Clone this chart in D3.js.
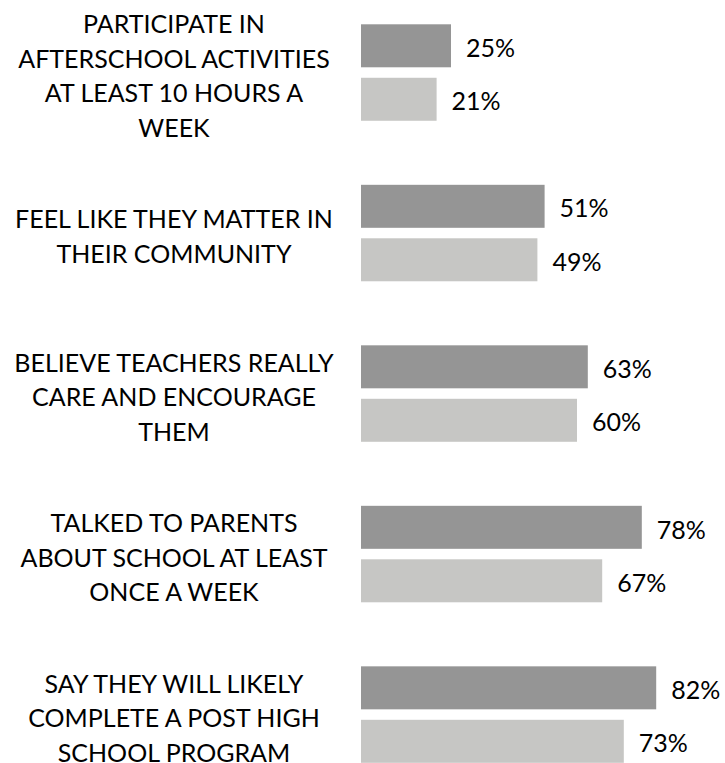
<!DOCTYPE html>
<html>
<head>
<meta charset="utf-8">
<script src="https://cdn.jsdelivr.net/npm/d3@7"></script>
<style>
  html, body { margin: 0; padding: 0; background: #ffffff; }
  svg { display: block; }
  text { font-family: Lato, "Open Sans", sans-serif; fill: #000000; }
</style>
</head>
<body>
<svg id="chart" width="725" height="763"></svg>
<script>
// Survey items, each already broken into the lines it is printed on
const categories = [
  ["PARTICIPATE IN", "AFTERSCHOOL ACTIVITIES", "AT LEAST 10 HOURS A", "WEEK"],
  ["FEEL LIKE THEY MATTER IN", "THEIR COMMUNITY"],
  ["BELIEVE TEACHERS REALLY", "CARE AND ENCOURAGE", "THEM"],
  ["TALKED TO PARENTS", "ABOUT SCHOOL AT LEAST", "ONCE A WEEK"],
  ["SAY THEY WILL LIKELY", "COMPLETE A POST HIGH", "SCHOOL PROGRAM"]
];
const seriesNames = ["first", "second"];
const firstValues = [25, 51, 63, 78, 82];
const secondValues = [21, 49, 60, 67, 73];
const seriesColors = ["#959595", "#c6c6c4"];

const svg = d3.select("#chart");
const keys = categories.map(lines => lines.join(" "));

const x = d3.scaleLinear().domain([0, 100]).range([361, 721]);
const y0 = d3.scaleBand().domain(keys).range([24.3, 762.8]).paddingInner(0.399).paddingOuter(0);
const y1 = d3.scaleBand().domain(seriesNames).range([0, y0.bandwidth()]).paddingInner(0.196);
const color = d3.scaleOrdinal().domain(seriesNames).range(seriesColors);

const rows = keys.map((k, i) => ({
  key: k,
  lines: categories[i],
  values: [
    { s: "first", v: firstValues[i] },
    { s: "second", v: secondValues[i] }
  ]
}));

const fontSize = 25;
const lineGap = 34.5;
const capHalf = 9.2;

const group = svg.selectAll("g.row").data(rows).join("g")
  .attr("class", "row")
  .attr("transform", d => `translate(0,${y0(d.key)})`);

// Bars
group.selectAll("rect").data(d => d.values).join("rect")
  .attr("x", x(0))
  .attr("y", d => y1(d.s))
  .attr("width", d => x(d.v) - x(0))
  .attr("height", y1.bandwidth())
  .attr("fill", d => color(d.s));

// Value labels
group.selectAll("text.val").data(d => d.values).join("text")
  .attr("class", "val")
  .attr("x", d => x(d.v) + 15)
  .attr("y", d => y1(d.s) + y1.bandwidth() / 2 + 2 + capHalf)
  .attr("font-size", fontSize)
  .text(d => d.v + "%");

// Category labels, centred beside each pair of bars
group.each(function (d) {
  const mid = y0.bandwidth() / 2 + 3.5;
  const n = d.lines.length;
  d3.select(this).selectAll("text.cat").data(d.lines).join("text")
    .attr("class", "cat")
    .attr("x", 174)
    .attr("y", (line, i) => mid + capHalf - (n - 1) * lineGap / 2 + i * lineGap)
    .attr("text-anchor", "middle")
    .attr("font-size", fontSize)
    .text(line => line);
});
</script>
</body>
</html>
